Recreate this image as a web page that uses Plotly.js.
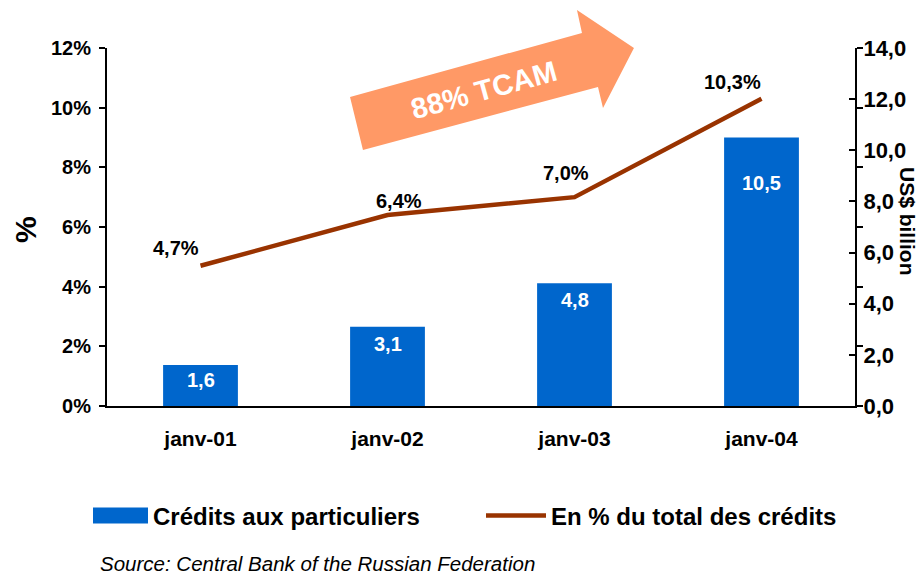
<!DOCTYPE html>
<html>
<head>
<meta charset="utf-8">
<script src="https://cdn.plot.ly/plotly-3.0.1.min.js"></script>
<style>html,body{margin:0;padding:0;background:#fff;}#chart{width:920px;height:578px;}</style>
</head>
<body>
<div id="chart"></div>
<script>
// ---- data ----
const categories = ['janv-01', 'janv-02', 'janv-03', 'janv-04'];
const creditsBn = [1.6, 3.1, 4.8, 10.5];          // US$ billion (right axis)
const sharePct = [4.7, 6.4, 7.0, 10.3];           // % of total credits (left axis)
const leftTickVals = [0, 2, 4, 6, 8, 10, 12];
const rightTickVals = [0, 2, 4, 6, 8, 10, 12, 14];
const barSeriesName = 'Crédits aux particuliers';
const lineSeriesName = 'En % du total des crédits';
const arrowLabel = '88% TCAM';
const sourceText = 'Source: Central Bank of the Russian Federation';
const leftAxisTitle = '%';
const rightAxisTitle = 'US$ billion';

// ---- layout helpers (pixel -> paper) ----
const L = 107, R = 855, T = 48, B = 406;
const W = R - L, H = B - T;
const px = x => (x - L) / W;
const py = y => (B - y) / H;
const fmt = (v, d) => v.toFixed(d).replace('.', ',');

const BOLD = 'Liberation Sans, Arial, sans-serif';

const traces = [
  {
    type: 'bar', x: categories, y: creditsBn, yaxis: 'y2', name: barSeriesName,
    marker: {color: '#0066CC'}, width: 0.4, hoverinfo: 'skip', legend: 'legend'
  },
  {
    type: 'scatter', mode: 'lines', x: categories, y: sharePct, yaxis: 'y', name: lineSeriesName,
    line: {color: '#993300', width: 4.5}, hoverinfo: 'skip', legend: 'legend2'
  }
];

const lineLabelShift = [[-25, 18], [11, 14], [-9, 24], [-29, 17]];
const barLabelShift = [-15, -17, -17, -45];

const annotations = [];
sharePct.forEach((v, i) => annotations.push({
  x: categories[i], y: v, xref: 'x', yref: 'y', text: fmt(v, 1) + '%', showarrow: false,
  xshift: lineLabelShift[i][0], yshift: lineLabelShift[i][1],
  font: {family: BOLD, size: 20, weight: 'bold', color: '#000'}
}));
creditsBn.forEach((v, i) => annotations.push({
  x: categories[i], y: v, xref: 'x', yref: 'y2', text: fmt(v, 1), showarrow: false,
  yshift: barLabelShift[i], yanchor: 'middle',
  font: {family: BOLD, size: 20, weight: 'bold', color: '#fff'}
}));
annotations.push({
  x: px(484), y: py(90), xref: 'paper', yref: 'paper', xanchor: 'center', yanchor: 'middle',
  text: arrowLabel, showarrow: false,
  textangle: -15.4, font: {family: BOLD, size: 29, weight: 'bold', color: '#ffffff'}
});
annotations.push({
  x: px(25), y: py(230), xref: 'paper', yref: 'paper', xanchor: 'center', yanchor: 'middle',
  text: leftAxisTitle, showarrow: false,
  textangle: -90, font: {family: BOLD, size: 30, weight: 'bold', color: '#000'}
});
annotations.push({
  x: px(908), y: py(221), xref: 'paper', yref: 'paper', xanchor: 'center', yanchor: 'middle',
  text: rightAxisTitle, showarrow: false,
  textangle: 90, font: {family: BOLD, size: 21, weight: 'bold', color: '#000'}
});
annotations.push({
  x: px(98), y: py(577), xref: 'paper', yref: 'paper', xanchor: 'left', yanchor: 'bottom',
  text: sourceText, showarrow: false,
  font: {family: BOLD, size: 20.5, style: 'italic', color: '#000'}
});

const arrowPts = [[363, 150], [350, 97], [582, 33], [577, 10], [634, 48], [603, 108], [598, 87]];
const arrowPath = 'M' + arrowPts.map(p => px(p[0]).toFixed(4) + ',' + py(p[1]).toFixed(4)).join(' L') + ' Z';

const legendFont = {family: BOLD, size: 24, weight: 'bold', color: '#000'};
const layout = {
  width: 920, height: 578,
  margin: {l: L, r: 920 - R, t: T, b: 578 - B, pad: 0},
  paper_bgcolor: '#fff', plot_bgcolor: 'rgba(0,0,0,0)',
  separators: ', ',
  showlegend: true,
  legend: {
    orientation: 'h', x: px(83), y: py(516), xanchor: 'left', yanchor: 'middle',
    font: legendFont, itemwidth: 60, bgcolor: 'rgba(0,0,0,0)'
  },
  legend2: {
    orientation: 'h', x: px(481), y: py(516), xanchor: 'left', yanchor: 'middle',
    font: legendFont, itemwidth: 60, bgcolor: 'rgba(0,0,0,0)'
  },
  xaxis: {
    type: 'category', range: [-0.5, 3.5], showgrid: false, zeroline: false,
    showline: true, linecolor: '#000', linewidth: 2, ticks: '',
    ticklabelstandoff: 13,
    tickfont: {family: BOLD, size: 21, weight: 'bold', color: '#000'}
  },
  yaxis: {
    range: [0, 12], tickvals: leftTickVals, ticktext: leftTickVals.map(v => v + '%'),
    showgrid: false, zeroline: false, showline: true, linecolor: '#000', linewidth: 2,
    ticks: 'outside', ticklen: 6, tickwidth: 2, tickcolor: '#000', mirror: 'ticks',
    ticklabelstandoff: 4,
    tickfont: {family: BOLD, size: 20, weight: 'bold', color: '#000'}
  },
  yaxis2: {
    range: [0, 14], tickvals: rightTickVals, ticktext: rightTickVals.map(v => fmt(v, 1)),
    overlaying: 'y', side: 'right', showgrid: false, zeroline: false,
    showline: true, linecolor: '#000', linewidth: 2,
    ticks: 'inside', ticklen: 6, tickwidth: 2, tickcolor: '#000',
    ticklabelstandoff: 2,
    tickfont: {family: BOLD, size: 22, weight: 'bold', color: '#000'}
  },
  shapes: [{
    type: 'path', xref: 'paper', yref: 'paper', path: arrowPath,
    fillcolor: '#FF9966', line: {width: 0}, layer: 'below'
  }],
  annotations: annotations
};

// Reshape legend symbols (wide box / long line like the original)
function reshapeLegend(gd) {
  const svg = gd.querySelector('svg.main-svg');
  gd.querySelectorAll('.legend .traces').forEach(item => {
    const txt = item.querySelector('.legendtext');
    if (!txt) return;
    const tr = txt.getBoundingClientRect();
    const bar = item.querySelector('.legendpoints path');
    const ln = item.querySelector('.legendlines path');
    const ref = bar || ln;
    if (!ref) return;
    const rr = ref.getBoundingClientRect();
    const cy = (rr.top + rr.bottom) / 2;
    const inv = ref.getScreenCTM().inverse();
    const loc = (x, y) => { const p = svg.createSVGPoint(); p.x = x; p.y = y; return p.matrixTransform(inv); };
    if (bar) {
      const a = loc(tr.left - 60, cy - 8), b = loc(tr.left - 5, cy + 8);
      bar.setAttribute('d', 'M' + a.x + ',' + a.y + 'H' + b.x + 'V' + b.y + 'H' + a.x + 'Z');
    } else {
      const a = loc(tr.left - 61, cy - 2), b = loc(tr.left - 6, cy - 2);
      ln.setAttribute('d', 'M' + a.x + ',' + a.y + 'H' + b.x);
      ln.style.strokeLinecap = 'round';
      ln.style.strokeWidth = '6px';
    }
  });
}

Plotly.newPlot('chart', traces, layout, {staticPlot: true}).then(gd => {
  try { reshapeLegend(gd); } catch (e) {}
});
</script>
</body>
</html>
